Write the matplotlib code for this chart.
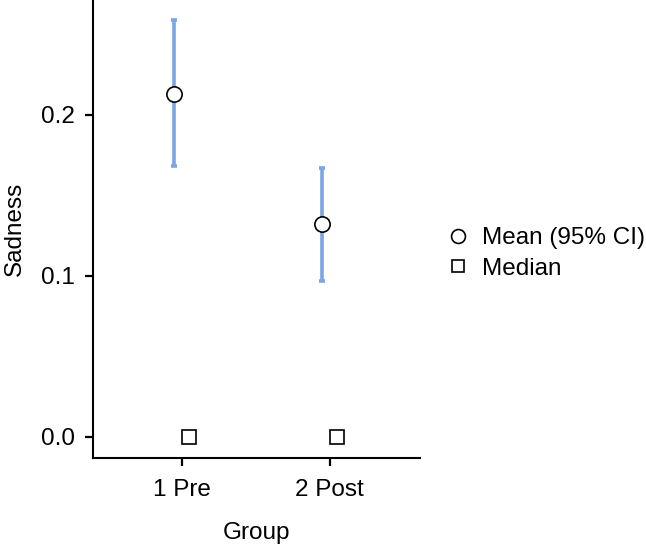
import matplotlib
matplotlib.use('Agg')
import matplotlib.pyplot as plt
from matplotlib.lines import Line2D

plt.rcParams['font.family'] = ['Liberation Sans', 'DejaVu Sans']

groups = ['1 Pre', '2 Post']
means = [0.213, 0.132]
ci_low = [0.168, 0.097]
ci_high = [0.259, 0.167]
medians = [0.0, 0.0]

fig = plt.figure(figsize=(6.46, 5.49), dpi=100)
ax = fig.add_axes([0.144, 0.166, 0.506, 0.834])

x = list(range(len(groups)))
xm = [i - 0.05 for i in x]
xd = [i + 0.05 for i in x]
err = [[m - l for m, l in zip(means, ci_low)], [h - m for m, h in zip(means, ci_high)]]

ax.errorbar(xm, means, yerr=err, fmt='none', ecolor='#7AA6E6', elinewidth=2.6,
            capsize=2.5, capthick=2.6, zorder=2)
ax.plot(xm, means, 'o', ms=11, mfc='white', mec='black', mew=1.2, zorder=3)
ax.plot(xd, medians, 's', ms=9.5, mfc='white', mec='black', mew=1.2, zorder=3)

ax.set_xlim(-0.6, 1.61)
ax.set_ylim(-0.013, 0.2714)
ax.set_yticks([0.0, 0.1, 0.2])
ax.set_yticklabels(['0.0', '0.1', '0.2'])
ax.set_xticks(x)
ax.set_xticklabels(groups)
ax.tick_params(labelsize=17.5, width=1.6, length=6, colors='black', pad=7)
ax.tick_params(axis='x', pad=9)
for s in ['top', 'right']:
    ax.spines[s].set_visible(False)
for s in ['left', 'bottom']:
    ax.spines[s].set_linewidth(1.5)
ax.set_xlabel('Group', fontsize=17.5, labelpad=15)
ax.set_ylabel('Sadness', fontsize=17.5, labelpad=11)

handles = [
    Line2D([], [], ls='none', marker='o', ms=10, mfc='white', mec='black', mew=1.2),
    Line2D([], [], ls='none', marker='s', ms=9, mfc='white', mec='black', mew=1.2),
]
fig.legend(handles, ['Mean (95% CI)', 'Median'], loc='center left',
           bbox_to_anchor=(0.694, 0.538), frameon=False, fontsize=17.5,
           handlelength=0.8, handletextpad=0.6, labelspacing=0.35,
           borderaxespad=0, borderpad=0)

fig.savefig('out.png', dpi=100)
